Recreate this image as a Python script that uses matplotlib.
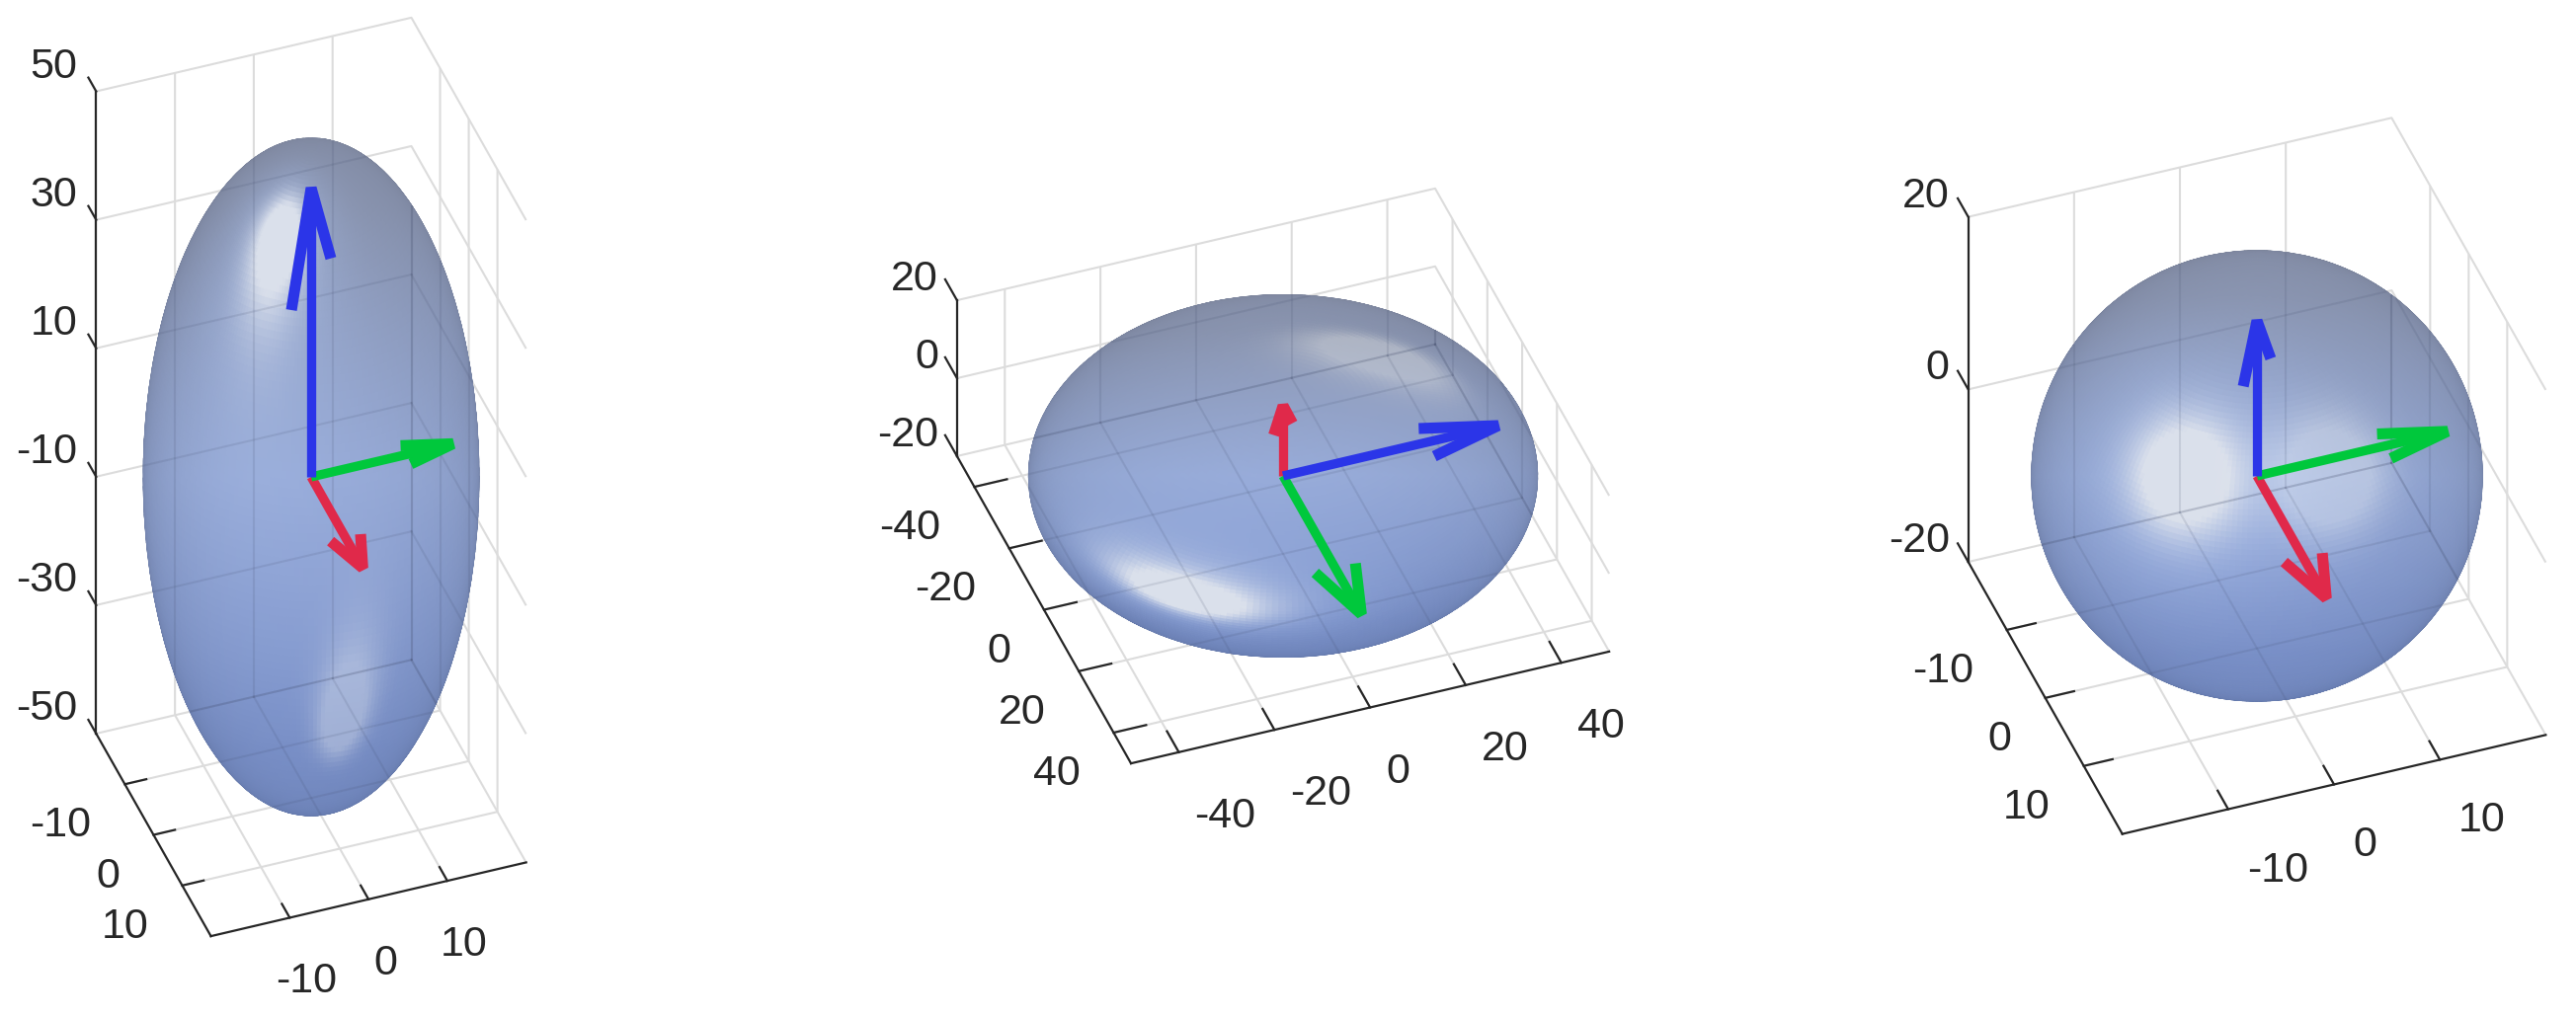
import numpy as np
import matplotlib
matplotlib.use("Agg")
import matplotlib.pyplot as plt
from matplotlib.transforms import offset_copy
from mpl_toolkits.mplot3d import proj3d

plt.rcParams['font.family'] = ['Liberation Sans', 'DejaVu Sans']
plt.rcParams['axes.unicode_minus'] = False

# semi axes of the ellipsoids
radii_1 = [20, 20, 50]
radii_2 = [50, 50, 20]
radii_3 = [20, 20, 20]

# axis limits and ticks
limits_1 = [(-20, 20), (-20, 20), (-50, 50)]
limits_2 = [(-50, 50), (-50, 50), (-20, 20)]
limits_3 = [(-20, 20), (-20, 20), (-20, 20)]
xticks_1 = [-10, 0, 10]
yticks_1 = [-10, 0, 10]
zticks_1 = [-50, -30, -10, 10, 30, 50]
xticks_2 = [-40, -20, 0, 20, 40]
yticks_2 = [-40, -20, 0, 20, 40]
zticks_2 = [-20, 0, 20]
xticks_3 = [-10, 0, 10]
yticks_3 = [-10, 0, 10]
zticks_3 = [-20, 0, 20]

# arrows: tip, head back vector, head side vector
arrows_1 = [
    ((0, 18, 0), (0, -6, 0), (1.9, 0, 0), "#e0294a"),
    ((18, 0, 0), (-6, 0, 0), (0, 1.8, 0), "#00c83c"),
    ((0, 0, 45), (0, 0, -15), (3.85, -3.7, 0), "#2b35e8"),
]
arrows_2 = [
    ((0, 0, 18), (0, 0, -6), (2.35, -1.07, 0), "#e0294a"),
    ((0, 45, 0), (0, -15, 0), (4.2, 0, 0), "#00c83c"),
    ((45, 0, 0), (-15, 0, 0), (0, 4.5, 0), "#2b35e8"),
]
arrows_3 = [
    ((0, 18, 0), (0, -6, 0), (1.8, 0, 0), "#e0294a"),
    ((18, 0, 0), (-6, 0, 0), (0, 1.8, 0), "#00c83c"),
    ((0, 0, 18), (0, 0, -6), (1.8, -1.38, 0), "#2b35e8"),
]

ELEV = 40
AZIM = 250
W, H = 2608, 1030

# view vectors in data coordinates (y axis is reversed)
CAM = np.array([-0.262, 0.72, 0.643])
UP = np.array([0.22, -0.604, 0.766])
RIGHT = np.array([0.94, 0.342, 0.0])
HALF = np.array([-0.55, 0.575, 0.611])
HALF = HALF / np.linalg.norm(HALF)

FRONT_CENTER = np.array([122, 148, 207]) / 255
FRONT_HIGH = np.array([108, 120, 150]) / 255
FRONT_LOW = np.array([80, 112, 192]) / 255
EDGE_TOP = np.array([72, 78, 98]) / 255
EDGE_BOTTOM = np.array([30, 57, 123]) / 255
BACK = np.array([130, 150, 200]) / 255
GLOW = np.array([150, 180, 240]) / 255
SPOT = np.array([235, 238, 240]) / 255


def unit(v):
    return v / np.linalg.norm(v, axis=-1, keepdims=True)


def shade(px, py, pz, radii):
    # colour of the see-through ellipsoid at a front point: front skin over back skin over white
    r = np.array(radii, float)
    p = np.stack([px, py, pz], axis=-1)
    n = unit(p / r ** 2)
    front = n @ CAM > 0

    spec = np.clip(n @ HALF, 0, 1)
    hot = np.clip(2.0 * spec ** 34, 0, 1)[..., None]
    glow = (0.55 * spec ** 6)[..., None]

    # position inside the outline on screen
    h = (p @ UP / np.linalg.norm(r * UP))[..., None]
    w = (p @ RIGHT / np.linalg.norm(r * RIGHT))[..., None]
    f = np.sqrt(np.clip(1 - h ** 2 - w ** 2, 0, 1))
    t = (h + 1) / 2
    edge = EDGE_BOTTOM + (EDGE_TOP - EDGE_BOTTOM) * t
    inner = FRONT_CENTER + (FRONT_HIGH - FRONT_CENTER) * np.clip(h / 0.8, 0, 1)
    inner = inner + (FRONT_LOW - inner) * np.clip(-h / 0.8, 0, 1)
    col = edge + (inner - edge) * f ** 0.45
    col = col + (GLOW - col) * glow
    col = col + (SPOT - col) * hot

    # point behind it along the view ray, lit with a reversed normal
    d = CAM / r
    s = 2 * ((p / r) @ d) / (d @ d)
    pb = p - s[..., None] * CAM
    nb = -unit(pb / r ** 2)
    hot_b = np.clip(2.0 * np.clip(nb @ HALF, 0, 1) ** 34, 0, 1)[..., None]
    back = BACK + (SPOT - BACK) * hot_b

    rgb = 0.6 * col + 0.4 * (0.5 * back + 0.5)
    rgb = rgb + (SPOT - rgb) * 0.2 * hot_b
    return np.concatenate([np.clip(rgb, 0, 1), front[..., None].astype(float)], axis=-1)


def see_through_grid(ax, radii, limits, xticks, yticks, zticks):
    # wall grid seen through the ellipsoid, only the part behind its outline
    r = np.array(radii, float)
    (x0, x1), (y0, y1), (z0, z1) = limits
    xs = sorted(set(xticks + [x1]))
    ys = sorted(set(yticks + [y0, y1]))
    zs = sorted(set(zticks + [z0, z1]))
    s = np.linspace(0, 1, 400)
    lines = []
    for xt in xs:
        lines.append((xt + 0 * s, y0 + 0 * s, z0 + (z1 - z0) * s))
        lines.append((xt + 0 * s, y0 + (y1 - y0) * s, z0 + 0 * s))
    for yt in ys:
        lines.append((x1 + 0 * s, yt + 0 * s, z0 + (z1 - z0) * s))
        lines.append((x0 + (x1 - x0) * s, yt + 0 * s, z0 + 0 * s))
    for zt in zs:
        lines.append((x0 + (x1 - x0) * s, y0 + 0 * s, zt + 0 * s))
        lines.append((x1 + 0 * s, y0 + (y1 - y0) * s, zt + 0 * s))
    d = CAM / r
    for lx, ly, lz in lines:
        q = np.stack([lx, ly, lz], axis=-1) / r
        disc = (q @ d) ** 2 - (d @ d) * ((q * q).sum(axis=1) - 1)
        keep = disc > 0
        ax.plot(np.where(keep, lx, np.nan), np.where(keep, ly, np.nan), np.where(keep, lz, np.nan),
                color="#3c4664", alpha=0.13, lw=1.5, zorder=2.5)


def tick_label(ax, x, y, z, text, tr, ha):
    # 2D text at the projected place of the tick
    px, py, _ = proj3d.proj_transform(x, y, z, ax.get_proj())
    ax.text2D(px, py, text, transform=tr, ha=ha, va="center", fontsize=31, color="#262626")


def draw_panel(cx, cy, size, radii, limits, xticks, yticks, zticks, arrows, x_off, x_ha, z_dy):
    left = (cx - size * 0.5135) / W
    bottom = (H - cy - size * 0.5135) / H
    ax = fig.add_axes([left, bottom, size / W, size / H], projection="3d")
    ax.set_proj_type("ortho")
    ax.patch.set_alpha(0)
    ax.computed_zorder = False
    ax.set_xlim(*limits[0], view_margin=0)
    ax.set_ylim(limits[1][1], limits[1][0], view_margin=0)
    ax.set_zlim(*limits[2], view_margin=0)
    ax.set_box_aspect([b - a for a, b in limits])
    ax.view_init(elev=ELEV, azim=AZIM)

    # ellipsoid
    a, b, c = radii
    u = np.linspace(0, 2 * np.pi, 241)
    v = np.linspace(0, np.pi, 121)
    um = (u[:-1] + u[1:]) / 2
    vm = (v[:-1] + v[1:]) / 2
    x = a * np.outer(np.cos(u), np.sin(v))
    y = b * np.outer(np.sin(u), np.sin(v))
    z = c * np.outer(np.ones_like(u), np.cos(v))
    xm = a * np.outer(np.cos(um), np.sin(vm))
    ym = b * np.outer(np.sin(um), np.sin(vm))
    zm = c * np.outer(np.ones_like(um), np.cos(vm))
    ax.plot_surface(x, y, z, rstride=1, cstride=1, facecolors=shade(xm, ym, zm, radii),
                    linewidth=0.8, antialiased=True, shade=False, zorder=2)
    see_through_grid(ax, radii, limits, xticks, yticks, zticks)

    # arrows
    for tip, back, side, color in arrows:
        tip = np.array(tip, float)
        back = np.array(back, float)
        side = np.array(side, float)
        ax.plot([0, tip[0]], [0, tip[1]], [0, tip[2]], color=color, lw=6.7,
                solid_capstyle="butt", zorder=3)
        head = np.array([tip + back - side, tip, tip + back + side])
        ax.plot(head[:, 0], head[:, 1], head[:, 2], color=color, lw=8,
                solid_capstyle="butt", solid_joinstyle="bevel", zorder=3)

    # axes look
    ax.set_xticks(xticks)
    ax.set_yticks(yticks)
    ax.set_zticks(zticks)
    ax.zaxis.set_ticks_position("lower")
    ax.xaxis._get_tickdir = lambda pos: 1
    ax.yaxis._get_tickdir = lambda pos: 0
    ax.zaxis._get_tickdir = lambda pos: 1
    for axis in [ax.xaxis, ax.yaxis, ax.zaxis]:
        axis.set_pane_color((1, 1, 1, 0))
        axis.pane.set_edgecolor("#dcdcdc")
        axis.pane.set_linewidth(1.5)
        axis.line.set_color("#262626")
        axis.line.set_linewidth(1.6)
        axis._axinfo["grid"]["color"] = "#dcdcdc"
        axis._axinfo["grid"]["linewidth"] = 1.5
        axis._axinfo["tick"]["inward_factor"] = 0
        axis._axinfo["tick"]["outward_factor"] = 0.85
        axis._axinfo["tick"]["linewidth"] = {True: 1.6, False: 1.0}
    ax.tick_params(axis="both", color="#262626", label1On=False, label2On=False)

    # tick labels sit at a fixed pixel offset from the axis line
    (x0, x1), (y0, y1), (z0, z1) = limits
    tr = offset_copy(ax.transData, fig=fig, x=x_off[0], y=x_off[1], units="dots")
    for t in xticks:
        tick_label(ax, t, y1, z0, str(t), tr, x_ha)
    tr = offset_copy(ax.transData, fig=fig, x=-34, y=-42, units="dots")
    for t in yticks:
        tick_label(ax, x0, t, z0, str(t), tr, "right")
    tr = offset_copy(ax.transData, fig=fig, x=-19, y=z_dy, units="dots")
    for t in zticks:
        tick_label(ax, x0, y0, t, str(t), tr, "right")
    return ax


fig = plt.figure(figsize=(W / 100, H / 100), dpi=100)
draw_panel(315, 483, 947, radii_1, limits_1, xticks_1, yticks_1, zticks_1, arrows_1, (17, -65), "center", 25)
draw_panel(1299, 482, 735, radii_2, limits_2, xticks_2, yticks_2, zticks_2, arrows_2, (16, -65), "left", 21)
draw_panel(2285, 482, 767, radii_3, limits_3, xticks_3, yticks_3, zticks_3, arrows_3, (19, -62), "left", 21)
fig.savefig("out.png", dpi=100)
